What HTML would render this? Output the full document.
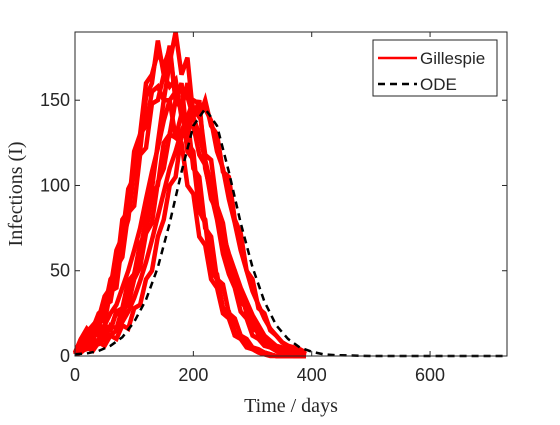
<!DOCTYPE html>
<html><head><meta charset="utf-8"><style>
body{margin:0;background:#fff;}
svg text{font-family:"Liberation Sans",sans-serif;fill:#262626;}
</style></head><body>
<svg width="560" height="420">
<rect width="560" height="420" fill="#fff"/>
<g id="plot"></g>
</svg>
<script>
const xTicks=[0,200,400,600];
const yTicks=[0,50,100,150];
const times=[0,10,20,30,40,50,60,70,80,90,100,110,120,130,140,150,160,170,180,190,200,210,220,230,240,250,260,270,280,290,300,310,320,330,340,350,360,370,380,390];
const run1=[1,7,10,14,12,18,16,26,22,36,48,62,80,98,125,150,172,190,165,175,140,150,110,95,80,60,48,40,26,22,12,10,6,5,3,2,1,0,0,0];
const run2=[2,10,16,12,22,20,38,40,68,80,110,120,152,160,185,165,182,150,160,125,120,85,80,52,48,28,26,14,12,6,5,3,2,1,0,0,0,0,0,0];
const run3=[1,8,12,16,25,28,45,50,80,85,120,130,160,165,178,170,180,150,148,120,115,85,78,50,45,28,24,12,10,5,4,2,1,0,0,0,0,0,0,0];
const run4=[1,2,5,3,8,6,12,10,18,16,28,30,45,50,70,80,100,105,130,128,145,140,150,135,130,108,105,80,72,50,45,28,25,15,12,8,6,4,3,1];
const run5=[1,5,5,10,8,16,15,26,28,44,48,66,72,95,100,125,130,150,145,160,145,145,118,115,88,78,55,50,32,28,16,14,8,6,3,2,1,0,0,0];
const run6=[1,6,7,14,16,30,32,52,58,84,88,118,122,148,150,165,158,162,140,140,110,105,75,70,45,42,25,22,12,10,5,4,2,1,0,0,0,0,0,0];
const run7=[1,3,6,6,10,10,18,16,28,30,45,52,72,78,102,110,130,128,142,135,135,118,112,92,85,65,58,42,38,25,22,12,10,6,5,4,3,2,1,0];
const run8=[2,10,14,18,22,35,40,62,70,98,105,130,135,155,158,150,150,128,125,100,95,70,65,45,40,25,22,12,10,6,4,3,2,1,0,0,0,0,0,0];
const run9=[1,3,4,6,7,10,12,15,20,26,34,44,55,68,82,96,110,120,132,140,150,148,145,138,120,110,92,78,62,50,38,30,22,16,12,8,6,5,4,2];
const run10=[1,4,8,10,15,18,25,30,40,50,62,75,92,108,122,138,150,155,158,152,140,130,115,100,86,72,60,50,40,32,24,18,12,9,6,5,4,3,2,1];
const odeT=[0,20,40,60,80,100,120,140,160,180,200,220,240,260,280,300,320,340,360,380,400,420,440,500,600,730];
const odeI=[1,1.5,3,6,11,20,33,52,78,108,135,145,135,108,78,52,32,18,10,5,2.5,1,0.5,0,0,0];

const L=75,R=507,T=32,B=356,XMAX=730,YMAX=190;
const sx=v=>L+(v/XMAX)*(R-L);
const sy=v=>B-(v/YMAX)*(B-T);
const NS="http://www.w3.org/2000/svg";
const g=document.getElementById('plot');
function mk(tag,attrs,parent){const e=document.createElementNS(NS,tag);for(const k in attrs)e.setAttribute(k,attrs[k]);(parent||g).appendChild(e);return e;}

const runs=[run1,run2,run3,run4,run5,run6,run7,run8,run9,run10];
runs.forEach((r,i)=>{
  const p=mk('polyline',{points:times.map((t,j)=>sx(t)+','+sy(r[j])).join(' '),fill:'none',stroke:'#ff0000','stroke-width':4.5,'stroke-linejoin':'miter'});
  
  
});
const ode=mk('polyline',{points:odeT.map((t,j)=>sx(t)+','+sy(odeI[j])).join(' '),fill:'none',stroke:'#000','stroke-width':2.5,'stroke-dasharray':'7,5'});



const box=mk('rect',{x:L,y:T,width:R-L,height:B-T,fill:'none',stroke:'#262626','stroke-width':1});



xTicks.forEach(v=>{
  mk('line',{x1:sx(v),x2:sx(v),y1:B,y2:B-5,stroke:'#262626'});
  mk('line',{x1:sx(v),x2:sx(v),y1:T,y2:T+5,stroke:'#262626'});
  const t=mk('text',{x:sx(v),y:B+25,'text-anchor':'middle','font-size':18});
  t.textContent=v;
  
  
});
yTicks.forEach(v=>{
  mk('line',{x1:L,x2:L+5,y1:sy(v),y2:sy(v),stroke:'#262626'});
  mk('line',{x1:R,x2:R-5,y1:sy(v),y2:sy(v),stroke:'#262626'});
  const t=mk('text',{x:L-5,y:sy(v)+6,'text-anchor':'end','font-size':18});
  t.textContent=v;
  
  
});
const xl=mk('text',{x:291,y:412,'text-anchor':'middle','font-size':20,style:'font-family:"Liberation Serif",serif'});
xl.textContent='Time / days';


const yl=mk('text',{x:0,y:0,'text-anchor':'middle','font-size':20,transform:'translate(22,194) rotate(-90)',style:'font-family:"Liberation Serif",serif'});
yl.textContent='Infections (I)';



const lg=mk('g',{});


mk('rect',{x:373,y:40,width:124,height:56,fill:'#fff',stroke:'#262626'},lg);
mk('line',{x1:378,x2:417,y1:58,y2:58,stroke:'#ff0000','stroke-width':2.5},lg);
mk('line',{x1:378,x2:417,y1:84,y2:84,stroke:'#000','stroke-width':2.5,'stroke-dasharray':'7,5'},lg);
const l1=mk('text',{x:420,y:64,'font-size':17},lg);
l1.textContent='Gillespie';


const l2=mk('text',{x:420,y:90,'font-size':17},lg);
l2.textContent='ODE';


</script>
</body></html>
